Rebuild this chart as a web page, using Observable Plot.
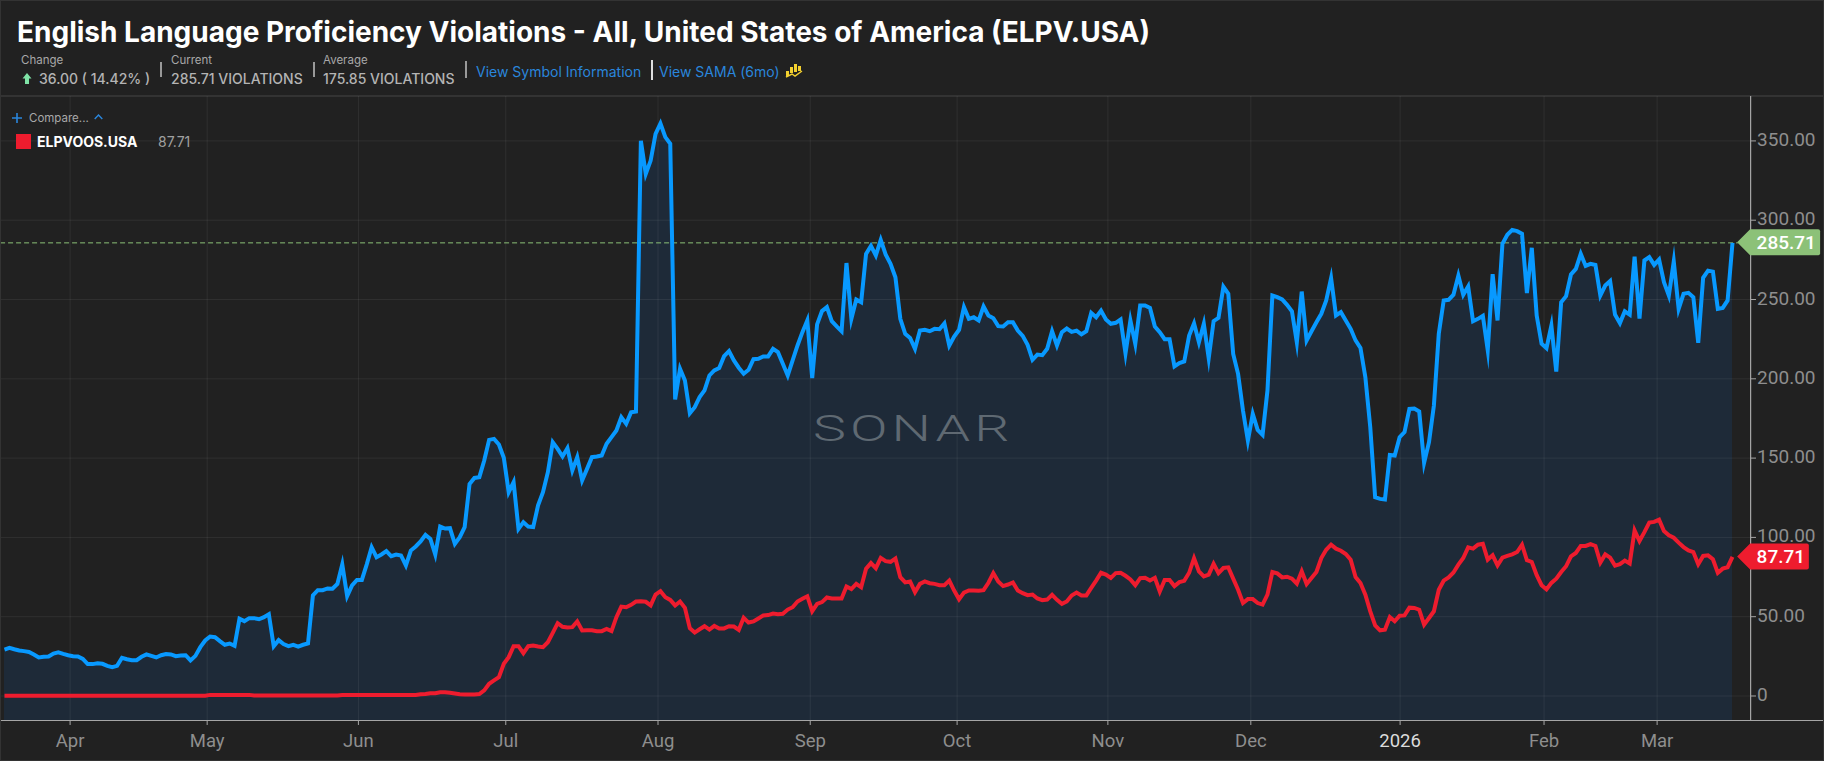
<!DOCTYPE html>
<html>
<head>
<meta charset="utf-8">
<script src="https://cdn.jsdelivr.net/npm/d3@7"></script>
<script src="https://cdn.jsdelivr.net/npm/@observablehq/plot@0.6"></script>
<style>
html,body{margin:0;padding:0;background:#212121;overflow:hidden}
#page{position:relative;width:1824px;height:761px;background:#212121;box-sizing:border-box;font-family:Inter,sans-serif}
#page .a{position:absolute;white-space:nowrap}
#head-line{position:absolute;left:0;top:95px;width:1824px;height:2px;background:#333}
#edge{position:absolute;left:0;top:0;width:1824px;height:761px;box-sizing:border-box;border:1px solid #333;pointer-events:none}
#chart{position:absolute;left:0;top:96px}
.lab{font-size:11.5px;color:#a8a8a8;top:53px;line-height:14px}
.val{font-size:14px;color:#b4b4b4;font-weight:500;top:70px;line-height:17px}
.sep{position:absolute;width:1.5px;background:#999}
.link{font-size:14px;color:#2a86dc;top:63px;line-height:17px}
</style>
</head>
<body>
<div id="page">
  <div class="a" style="left:17px;top:15px;font-size:28px;font-weight:700;color:#fff;line-height:34px">English Language Proficiency Violations - All, United States of America (ELPV.USA)</div>
  <div class="a lab" style="left:21px">Change</div>
  <svg class="a" style="left:22px;top:72px" width="10" height="13" viewBox="0 0 10 13"><path d="M5 1 L9.5 6.5 H7 V12 H3 V6.5 H.5 Z" fill="#7fe3a6"/></svg>
  <div class="a val" style="left:39px">36.00 ( 14.42% )</div>
  <div class="sep" style="left:160px;top:62px;height:15px"></div>
  <div class="a lab" style="left:171px">Current</div>
  <div class="a val" style="left:171px">285.71 VIOLATIONS</div>
  <div class="sep" style="left:313px;top:62px;height:15px"></div>
  <div class="a lab" style="left:323px">Average</div>
  <div class="a val" style="left:323px">175.85 VIOLATIONS</div>
  <div class="sep" style="left:465px;top:61px;height:17px"></div>
  <div class="a link" style="left:476px">View Symbol Information</div>
  <div class="sep" style="left:651px;top:60px;height:20px;background:#ddd"></div>
  <div class="a link" style="left:659px">View SAMA (6mo)</div>
  <svg class="a" style="left:785px;top:62px" width="18" height="16" viewBox="0 0 18 16"><path d="M1 9h3v5H1zM5 5h3v6H5zM9 2h3v8H9zM13 4h3v5h-3z" fill="#f3d02f"/><path d="M1 15 L7 12 L10 14 L17 9" stroke="#f3d02f" stroke-width="1.5" fill="none"/></svg>
  <div id="head-line"></div>
  <div id="chart"></div>
  <div class="a" style="left:813px;top:405px;font-family:Roboto;font-weight:300;font-size:37px;line-height:48px;letter-spacing:2.7px;color:#5f6972;transform:scaleX(1.5);transform-origin:left center">SONAR</div>
  <svg class="a" style="left:12px;top:113px" width="10" height="10" viewBox="0 0 10 10"><path d="M5 0V10M0 5H10" stroke="#2a86dc" stroke-width="1.6"/></svg>
  <div class="a" style="left:29px;top:111px;font-size:11.5px;line-height:14px;color:#a8a8a8">Compare...</div>
  <svg class="a" style="left:94px;top:114px" width="9" height="6" viewBox="0 0 9 6"><path d="M.7 5 L4.5 1 L8.3 5" stroke="#2a86dc" stroke-width="1.4" fill="none"/></svg>
  <div class="a" style="left:15.5px;top:134px;width:15px;height:15px;background:#ee1c2e"></div>
  <div class="a" style="left:37px;top:133px;font-size:14px;font-weight:700;line-height:18px;color:#fff">ELPVOOS.USA</div>
  <div class="a" style="left:158px;top:133px;font-size:14px;line-height:18px;color:#a0a0a0">87.71</div>
  <div id="edge"></div>
</div>
<script>
const blue = [
29.3,30.4,29.5,28.7,28.3,27.8,26.2,24.3,24.7,24.9,
26.8,27.6,26.6,25.7,25.1,24.9,23.4,20.1,20.1,20.7,
20.3,19.0,18.2,19.0,24.1,23.2,22.6,22.6,24.7,26.2,
25.3,24.3,25.7,26.4,26.2,25.1,25.5,25.7,22.4,25.3,
30.8,35,37.5,37.1,34.6,32.3,33.1,31.6,48.7,47.2,
49.1,49.1,48.4,49.7,51.6,31.4,35.2,32.7,31.4,32.3,
31.2,32.3,33.1,63.4,66.7,66.7,67.8,67.6,70.7,83,
63,69.7,73.2,73.2,83,93.8,87.5,89.2,91.3,88.2,
89.2,88.6,82.3,91.7,94.3,97.4,101.6,99.1,89.2,106.8,
105.6,105.8,95.9,100.1,106.5,133.7,137.5,138,148.5,161.5,
162.1,158.6,150.2,128.5,134.8,105.4,109.6,106.8,106.5,120.2,
128.5,141.1,160,155.8,151,156.3,142.2,150.6,135.9,143.2,
150.6,151,151.6,159,163.2,167.4,175.8,171.6,178.9,179.4,
350,329.2,337.6,354.4,361,352.4,348.2,187,206.3,198.9,
178.3,182.1,188.5,192.7,202.1,205.3,206.8,214.3,217.5,211.6,
207,203.2,205.7,212.4,212.6,214.1,214.1,218.9,216.8,209.5,
202.1,211.6,221,229.4,236.8,200.4,234.3,242.7,245.2,236.3,
233,230,273,237.8,250,248.3,278.8,283.8,277.8,287.6,
278.4,272.5,264,237.8,228.3,225.8,218.9,230.4,230.9,230,
231.5,231.3,235,221,226.7,230.9,245.2,237.8,238.8,236.8,
245.6,239.9,238.2,233.2,233,235.7,235.7,230.4,227.1,221.4,
212,215.3,214.9,218.9,230,221,229.4,231.7,229.6,230.4,
228.1,230,241.6,238.8,243,237.4,234.7,235.3,237.4,216,
236.8,222,246.2,246.2,244.7,233,229.4,225,225,207.8,
209.9,210.9,227.3,235,223,234.7,213,236.4,238.4,258,
253.6,215.7,203.1,180,161.1,177.9,167.8,164.7,192.6,252.5,
251.5,250,246.6,242.6,223,255,224.2,230,235.7,241,
249.4,263.5,239.9,242,236.8,231.5,224.2,219.5,201,169.5,
125.3,124.3,123.9,152,151.6,163.2,166.4,181,181.3,179.4,
147,160,183.2,228.4,249.4,249.8,253,265.1,253,258.2,
236.3,237.8,239.7,218,266,236.8,285.1,290.8,293.9,293.1,
291.4,254,282.6,239.9,222.1,219.3,233.6,204.6,248.3,252.1,
265.8,269.3,278.8,271.2,272.5,271.8,252.5,258.8,261.6,240.5,
235.1,242.6,240.5,277,238,274.6,276.7,271.8,275.2,260.9,
252.5,274,244.1,253.6,254.2,251.5,222.7,263.7,268.2,267.6,
244.1,244.7,249.4,285.71];
const red = [
.2,.2,.2,.2,.2,.2,.2,.2,.2,.2,
.2,.2,.2,.2,.2,.2,.2,.2,.2,.2,
.2,.2,.2,.2,.2,.2,.2,.2,.2,.2,
.2,.2,.2,.2,.2,.2,.2,.2,.2,.2,
.2,.2,.7,.7,.7,.7,.7,.7,.7,.7,
.7,.3,.3,.3,.3,.3,.3,.3,.3,.3,
.3,.3,.3,.3,.3,.3,.3,.3,.3,.6,
.6,.6,.6,.6,.6,.6,.6,.6,.6,.6,
.6,.6,.6,.6,.6,1.1,1.2,1.7,1.8,2.4,
2.4,2,1.6,1.1,1,1,1,1.2,3.5,7.7,
9.8,11.9,20.3,24.5,31.4,31.4,27,31.4,31.8,31.2,
30.8,33.9,39.8,45.9,43.6,43.2,43.4,47,41.3,41.5,
41.5,40.9,40.9,42.3,40.9,49.7,56.4,56,57.5,59.6,
59.8,59.4,57.1,64,66.1,62.3,60.6,57.1,59.6,55.6,
42.8,40,42.1,44,41.9,44.2,42.6,42.6,44,43.8,
41.7,49.3,46.3,47,48.9,50.8,51,52,51.6,51.8,
54.5,56,59.6,61.3,62.9,53.5,58.1,59.2,62.1,61.5,
61.5,61.5,69,67.4,70.7,68.6,80.2,83.8,80.6,87.1,
85,84.6,86.7,74.9,71.6,72.2,65.5,70.7,72.2,71.1,
70.7,69.9,69.9,72.8,66.5,61,65.2,66.5,66.5,66.3,
66.7,71.4,77.5,72.2,69.3,70.3,71.6,66.5,64.8,63.6,
64,61.5,60.4,60.8,63.8,60.6,58.1,59.6,63.4,65.2,
63.4,63.4,68.2,72.8,77.7,76.6,74.5,77.5,77.7,75.8,
73.5,69.9,74.3,74.5,72.8,74.5,65.9,73.2,73.2,69.3,
71.8,72.6,77.7,86.9,78.5,75.4,76.5,83.4,77.5,80.7,
81.1,74,67,58.6,61.1,61.1,58.6,57.6,63.9,78.2,
77.3,74.8,75.2,74,70.8,78.6,70.6,74.4,78.2,87,
92.2,95.4,92.9,91.6,89.5,85.9,75,71.2,63.9,53.4,
44.5,41.4,41.8,49.8,47.1,50.6,50.8,55.7,55.5,54.4,
45,49.2,53.4,67,72.7,74.8,77.9,82.8,87,93.7,
92.9,95.4,96,86,88.7,82.4,87.2,88.3,89.3,90.8,
95.4,85.6,84.5,76.2,69.9,67.2,71.3,74,78.2,81.8,
88.1,90.2,94.6,94.6,95.8,94.6,84.1,89.3,87.2,82.2,
83.1,85.4,83.5,104.4,97.7,103.3,109.3,109.8,111.2,104,
101.3,99.8,96.7,93.9,91.8,90.8,83.1,88.3,88.7,86.2,
77.6,80.3,81.2,87.71];
const index = blue.map((_, i) => i);
const monthTickIndex = [13.4,41.4,72.3,102.4,133.5,164.6,194.6,225.4,254.6,285.1,314.5,337.6];
const monthTickLabels = ["Apr","May","Jun","Jul","Aug","Sep","Oct","Nov","Dec","2026","Feb","Mar"];
const yTickValues = [0,50,100,150,200,250,300,350];
const yTickLabels = ["0","50.00","100.00","150.00","200.00","250.00","300.00","350.00"];
const lastBlue = 285.71, lastRed = 87.71;
const C = {blue:"#0899ff", red:"#ee1c2e", area:"#1e2a38", green:"#8cc178", grid:"#ffffff", axis:"#a6a6a6", label:"#8e8e8e"};
const Y_MIN = -15.45, Y_MAX = 378, X_AXIS = 356.7, X_LEFT = -0.8, X_RIGHT = 372;

function tag(value, text, fill, rightI) {
  return (i, {x, y}) => {
    const g = d3.create("svg:g");
    const yy = y(value), tip = x(X_AXIS) - 13, l = x(X_AXIS), r = x(rightI);
    g.append("path").attr("fill", fill)
      .attr("d", `M${tip},${yy}L${l},${yy-13}H${r-2}Q${r},${yy-13} ${r},${yy-11}V${yy+11}Q${r},${yy+13} ${r-2},${yy+13}H${l}Z`);
    g.append("text").attr("x", l + 6.5).attr("y", yy).attr("dy", "0.36em").attr("text-anchor", "start")
      .attr("fill", "#fff").attr("font-family", "Roboto").attr("font-size", 19).attr("font-weight", 500)
      .text(text);
    return g.node();
  };
}

const plot = Plot.plot({
  width: 1824, height: 665,
  marginLeft: 0, marginRight: 0, marginTop: 0, marginBottom: 41,
  style: {background: "transparent", fontFamily: "Roboto"},
  x: {type: "linear", domain: [0, 353], range: [4, 1732], axis: null},
  y: {type: "linear", domain: [Y_MIN, Y_MAX], range: [624, 0], axis: null},
  marks: [
    Plot.areaY(index, {x: d => d, y1: () => Y_MIN, y2: i => blue[i], fill: C.area, curve: "linear"}),
    Plot.ruleY(yTickValues, {x1: () => X_LEFT, x2: () => X_AXIS, stroke: C.grid, strokeOpacity: .065, strokeWidth: 1}),
    Plot.ruleX(monthTickIndex, {y1: () => Y_MIN, y2: () => Y_MAX, stroke: C.grid, strokeOpacity: .065, strokeWidth: 1}),
    Plot.ruleY([lastBlue], {x1: () => X_LEFT, x2: () => X_AXIS - 2.5, stroke: C.green, strokeWidth: 1, strokeDasharray: "5 3"}),
    Plot.lineY(index, {x: d => d, y: i => blue[i], stroke: C.blue, strokeWidth: 4, strokeLinejoin: "miter", strokeLinecap: "butt", strokeMiterlimit: 10, curve: "linear"}),
    Plot.lineY(index, {x: d => d, y: i => red[i], stroke: C.red, strokeWidth: 4, strokeLinejoin: "miter", strokeLinecap: "butt", strokeMiterlimit: 10, curve: "linear"}),
    Plot.ruleY([Y_MIN], {x1: () => X_LEFT, x2: () => X_RIGHT, stroke: C.axis, strokeWidth: 1.2}),
    Plot.ruleX([X_AXIS], {y1: () => Y_MIN, y2: () => Y_MAX, stroke: C.axis, strokeWidth: 1.2}),
    Plot.ruleX(monthTickIndex, {y1: () => Y_MIN, y2: () => Y_MIN - 3.15, stroke: C.axis, strokeWidth: 1}),
    Plot.text(monthTickIndex, {x: d => d, y: () => Y_MIN, dy: 21, text: (d, i) => monthTickLabels[i], fontSize: 18.5,
      fill: (d, i) => monthTickLabels[i] === "2026" ? "#dcdcdc" : C.label,
      fontWeight: (d, i) => monthTickLabels[i] === "2026" ? 700 : 400}),
    Plot.text(yTickValues, {x: () => X_AXIS, y: d => d, dx: 6.5, dy: -1, textAnchor: "start", text: (d, i) => yTickLabels[i], fontSize: 19, fill: C.label}),
    Plot.ruleY(yTickValues, {x1: () => X_AXIS, x2: () => X_AXIS + 1.2, stroke: C.axis, strokeWidth: 1}),
    tag(lastBlue, "285.71", C.green, 371),
    tag(lastRed, "87.71", C.red, 368.7)
  ]
});
document.getElementById("chart").appendChild(plot);
</script>
</body>
</html>
